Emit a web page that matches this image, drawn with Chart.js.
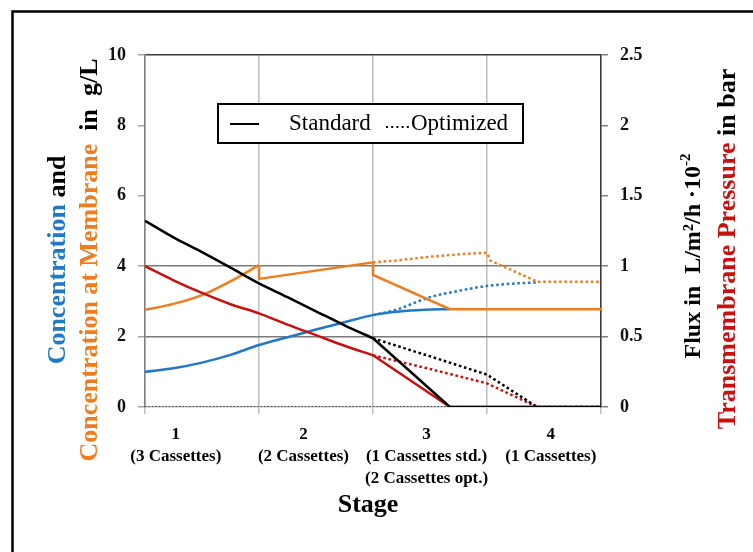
<!DOCTYPE html>
<html>
<head>
<meta charset="utf-8">
<script src="https://cdn.jsdelivr.net/npm/chart.js@4.4.1/dist/chart.umd.min.js"></script>
<style>
  html, body { margin: 0; padding: 0; background: #fff; }
  #wrap { width: 753px; height: 552px; position: relative; }
</style>
</head>
<body>
<div id="wrap"><canvas id="c" width="753" height="552"></canvas></div>
<script>
// ---- Stage axis (x runs from 0 to 4, one unit per stage) ----
const stageNumbers = ['1', '2', '3', '4'];
const stageCassettes = [
  ['(3 Cassettes)'],
  ['(2 Cassettes)'],
  ['(1 Cassettes std.)', '(2 Cassettes opt.)'],
  ['(1 Cassettes)']
];
const stageLabelPos = [0.27, 1.39, 2.47, 3.56];

// ---- Tick values ----
const leftTicks = [0, 2, 4, 6, 8, 10];        // g/L
const rightTicks = [0, 0.5, 1, 1.5, 2, 2.5];   // flux / TMP

// ---- Concentration (g/L) ----
const concStdX = [0, 0.25, 0.5, 0.75, 1, 1.25, 1.5, 1.75, 2, 2.23, 2.45, 2.675];
const concStdY = [1.0, 1.10, 1.26, 1.48, 1.76, 1.98, 2.20, 2.41, 2.61, 2.71, 2.76, 2.78];
const concOptX = [2, 2.2, 2.5, 2.75, 3, 3.2, 3.44];
const concOptY = [2.61, 2.76, 3.12, 3.30, 3.44, 3.50, 3.54];

// ---- Concentration at membrane (g/L) ----
const memStdX = [0, 0.25, 0.5, 0.75, 1, 1, 2, 2, 2.675, 4];
const memStdY = [2.76, 2.93, 3.18, 3.57, 4.03, 3.64, 4.11, 3.75, 2.78, 2.78];
const memOptX = [2, 2.2, 2.5, 2.8, 3, 3.03, 3.44, 4];
const memOptY = [4.11, 4.16, 4.27, 4.35, 4.38, 4.16, 3.56, 3.56];

// ---- Flux (L/m²/h ·10⁻²) ----
const fluxStdX = [0, 0.25, 0.5, 0.75, 1, 1.25, 1.5, 1.75, 2, 2.675, 4];
const fluxStdY = [1.323, 1.205, 1.10, 0.99, 0.878, 0.78, 0.68, 0.58, 0.488, 0, 0];
const fluxOptX = [2, 2.5, 3, 3.44, 4];
const fluxOptY = [0.488, 0.36, 0.23, 0, 0];
const fluxIdleX = [0, 2.675];
const fluxIdleY = [0, 0];

// ---- Transmembrane pressure (bar) ----
const tmpStdX = [0, 0.25, 0.5, 0.75, 1, 1.25, 1.5, 1.75, 2, 2.675, 4];
const tmpStdY = [1.0, 0.90, 0.81, 0.73, 0.665, 0.585, 0.51, 0.435, 0.367, 0, 0];
const tmpOptX = [2, 2.5, 3, 3.44];
const tmpOptY = [0.367, 0.27, 0.168, 0];

// ---- Styling ----
const SERIF = "'Liberation Serif', 'Times New Roman', serif";
const BLUE = '#1f78c8';
const ORANGE = '#ee7d22';
const RED = '#c81010';
const BLACK = '#000000';
const DOT = [2.6, 2.7];

const pts = (xs, ys, from, to) =>
  xs.slice(from, to).map((x, i) => ({ x, y: ys.slice(from, to)[i] }));

// opts: dotted, width, smooth, from, to
function series(label, xs, ys, color, axis, o) {
  o = o || {};
  return {
    label,
    data: pts(xs, ys, o.from || 0, o.to === undefined ? xs.length : o.to),
    borderColor: color,
    backgroundColor: color,
    borderWidth: o.width || 2.5,
    borderDash: o.dotted ? (Array.isArray(o.dotted) ? o.dotted : DOT) : [],
    yAxisID: axis,
    pointRadius: 0,
    tension: 0,
    cubicInterpolationMode: o.smooth ? 'monotone' : 'default',
    fill: false
  };
}

// First dataset is painted last (on top).
// Stages 1–2 are smooth curves; the later straight parts start at the stage-2 end point.
const datasets = [
  series('Flux standard', fluxStdX, fluxStdY, BLACK, 'yR', { smooth: true, to: 9 }),
  series('Flux standard', fluxStdX, fluxStdY, BLACK, 'yR', { from: 8 }),
  series('TMP standard', tmpStdX, tmpStdY, RED, 'yR', { smooth: true, to: 9 }),
  series('TMP standard', tmpStdX, tmpStdY, RED, 'yR', { from: 8 }),
  series('Flux optimized', fluxOptX, fluxOptY, BLACK, 'yR', { dotted: true }),
  series('TMP optimized', tmpOptX, tmpOptY, RED, 'yR', { dotted: true }),
  series('Flux optimized (idle)', fluxIdleX, fluxIdleY, '#222', 'yR', { dotted: [1.6, 1.8], width: 1.6 }),
  series('Membrane conc. standard', memStdX, memStdY, ORANGE, 'yL', { smooth: true, to: 5 }),
  series('Membrane conc. standard', memStdX, memStdY, ORANGE, 'yL', { from: 4 }),
  series('Membrane conc. optimized', memOptX, memOptY, ORANGE, 'yL', { dotted: true }),
  series('Concentration standard', concStdX, concStdY, BLUE, 'yL', { smooth: true }),
  series('Concentration optimized', concOptX, concOptY, BLUE, 'yL', { dotted: true, smooth: true })
];

// Draw a sequence of coloured text runs, centred on (x, y), optionally rotated
function drawRuns(ctx, runs, x, y, angle, baseFont) {
  ctx.save();
  ctx.translate(x, y);
  ctx.rotate(angle);
  ctx.textBaseline = 'alphabetic';
  ctx.textAlign = 'left';
  let total = 0;
  const widths = runs.map(r => {
    ctx.font = r.font || baseFont;
    const w = ctx.measureText(r.text).width;
    total += w;
    return w;
  });
  let cx = -total / 2;
  runs.forEach((r, i) => {
    ctx.font = r.font || baseFont;
    ctx.fillStyle = r.color || '#000';
    ctx.fillText(r.text, cx, r.dy || 0);
    cx += widths[i];
  });
  ctx.restore();
}

const decorations = {
  id: 'decorations',
  afterDatasetsDraw(chart) {
    const ctx = chart.ctx;

    // Legend box
    ctx.save();
    ctx.fillStyle = '#fff';
    ctx.fillRect(218, 104, 305, 39);
    ctx.strokeStyle = '#000';
    ctx.lineWidth = 2;
    ctx.strokeRect(218, 104, 305, 39);
    ctx.beginPath();
    ctx.moveTo(230, 124);
    ctx.lineTo(259, 124);
    ctx.lineWidth = 2;
    ctx.stroke();
    ctx.beginPath();
    ctx.setLineDash([2, 3.2]);
    ctx.moveTo(386, 127);
    ctx.lineTo(409, 127);
    ctx.lineWidth = 2;
    ctx.stroke();
    ctx.setLineDash([]);
    ctx.fillStyle = '#000';
    ctx.font = '23px ' + SERIF;
    ctx.textBaseline = 'middle';
    ctx.textAlign = 'left';
    ctx.fillText('Standard', 289, 124);
    ctx.fillText('Optimized', 411, 124);
    ctx.restore();
  },
  afterDraw(chart) {
    const ctx = chart.ctx;
    const xs = chart.scales.x;

    // Stage labels under the x axis
    ctx.save();
    ctx.fillStyle = '#000';
    ctx.textAlign = 'center';
    ctx.textBaseline = 'middle';
    ctx.font = 'bold 17px ' + SERIF;
    stageLabelPos.forEach((p, i) => {
      const px = xs.getPixelForValue(p);
      ctx.fillText(stageNumbers[i], px, 435);
      stageCassettes[i].forEach((t, j) => ctx.fillText(t, px, 457 + j * 22));
    });
    ctx.font = 'bold 26px ' + SERIF;
    ctx.fillText('Stage', 368, 505);
    ctx.restore();

    const F = 'bold 26px ' + SERIF;
    const FR = 'bold 24px ' + SERIF;
    const up = -Math.PI / 2;

    // Left axis titles
    drawRuns(ctx, [
      { text: 'Concentration', color: BLUE },
      { text: ' and', color: '#000' }
    ], 65, 260, up, F);
    drawRuns(ctx, [
      { text: 'Concentration at Membrane', color: ORANGE },
      { text: '  in  g/L', color: '#000' }
    ], 97, 260, up, F);

    // Right axis titles
    drawRuns(ctx, [
      { text: 'Flux in  L/m\u00B2/h \u00B710', color: '#000' },
      { text: '-2', color: '#000', font: 'bold 15px ' + SERIF, dy: -10 }
    ], 700, 256, up, FR);
    drawRuns(ctx, [
      { text: 'Transmembrane Pressure', color: RED },
      { text: ' in bar', color: '#000' }
    ], 735, 249, up, F);

    // Figure frame
    ctx.save();
    ctx.strokeStyle = '#000';
    ctx.lineWidth = 2.5;
    ctx.strokeRect(12.5, 11.5, 780, 620);
    ctx.restore();
  }
};

const tickFont = { family: SERIF, size: 18, weight: 'bold' };

new Chart(document.getElementById('c'), {
  type: 'line',
  data: { datasets },
  options: {
    responsive: false,
    animation: false,
    devicePixelRatio: 1,
    layout: { padding: { top: 55, left: 0, right: 0, bottom: 0 } },
    plugins: { legend: { display: false }, tooltip: { enabled: false } },
    scales: {
      x: {
        type: 'linear',
        min: 0,
        max: 4,
        ticks: { stepSize: 1, display: false },
        grid: { color: '#bdbdbd', lineWidth: 1.5, tickLength: 7, tickColor: '#bdbdbd' },
        border: { color: '#bdbdbd', width: 1.5 },
        afterFit(s) { s.height = 145; }
      },
      yL: {
        type: 'linear',
        position: 'left',
        min: 0,
        max: 10,
        afterBuildTicks(s) { s.ticks = leftTicks.map(v => ({ value: v })); },
        ticks: { font: tickFont, color: '#111', padding: 12, callback: v => String(v) },
        grid: {
          color: c => {
            const v = c.tick ? c.tick.value : null;
            if (v === 2 || v === 4) return '#7a7a7a';
            if (v === 10) return '#3a3a3a';
            return 'rgba(0,0,0,0)';
          },
          lineWidth: 1.5,
          tickLength: 7,
          tickColor: '#a6a6a6'
        },
        border: { color: '#808080', width: 1.5 },
        afterFit(s) { s.width = 145; }
      },
      yR: {
        type: 'linear',
        position: 'right',
        min: 0,
        max: 2.5,
        afterBuildTicks(s) { s.ticks = rightTicks.map(v => ({ value: v })); },
        ticks: { font: tickFont, color: '#111', padding: 12, callback: v => String(v) },
        grid: { drawOnChartArea: false, tickLength: 7, tickColor: '#808080', lineWidth: 1.5 },
        border: { color: '#3a3a3a', width: 1.5 },
        afterFit(s) { s.width = 152; }
      }
    }
  },
  plugins: [decorations]
});
</script>
</body>
</html>
